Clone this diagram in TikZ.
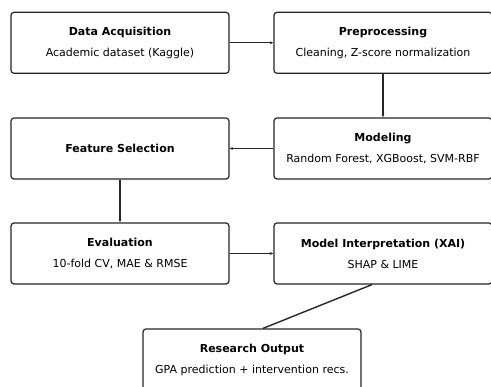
\documentclass[tikz,border=0pt]{standalone}
\usepackage{fontspec}
\setmainfont{DejaVu Sans}
\usetikzlibrary{arrows.meta}

\begin{document}
\begin{tikzpicture}[x=1pt, y=-1pt,
    box/.style={draw=black!85, line width=1.2pt, rounded corners=3pt,
      minimum width=218pt, minimum height=61pt, align=center,
      font=\fontsize{11}{13}\selectfont, inner sep=0pt},
    flow/.style={draw=black!85, line width=1.4pt},
    >={Latex[length=3pt,width=3pt]}]
    \clip (0,0) rectangle (491,387);
    \fill[white] (0,0) rectangle (491,387);

    % 1段目
    \node[box] (acq) at (120,42.8) {\textbf{Data Acquisition}\\[8pt]Academic dataset (Kaggle)};
    \node[box] (prep) at (383,42.8) {\textbf{Preprocessing}\\[8pt]Cleaning, Z-score normalization};

    % 2段目
    \node[box] (feat) at (120,148.5) {\textbf{Feature Selection}};
    \node[box] (model) at (383,148.5) {\textbf{Modeling}\\[8pt]Random Forest, XGBoost, SVM-RBF};

    % 3段目
    \node[box] (eval) at (120,253.5) {\textbf{Evaluation}\\[8pt]10-fold CV, MAE \& RMSE};
    \node[box] (xai) at (383,253.5) {\textbf{Model Interpretation (XAI)}\\[8pt]SHAP \& LIME};

    % 成果
    \node[box] (out) at (252,359.5) {\textbf{Research Output}\\[8pt]GPA prediction + intervention recs.};

    % 矢印
    \draw[flow, ->] (acq) -- (prep);
    \draw[flow, ->] (prep) -- (model);
    \draw[flow, ->] (model) -- (feat);
    \draw[flow, ->] (feat) -- (eval);
    \draw[flow, ->] (eval) -- (xai);
    \draw[flow] ([xshift=-11pt]xai.south) -- ([xshift=11pt]out.north); % XAIから成果へ
  \end{tikzpicture}
\end{document}
